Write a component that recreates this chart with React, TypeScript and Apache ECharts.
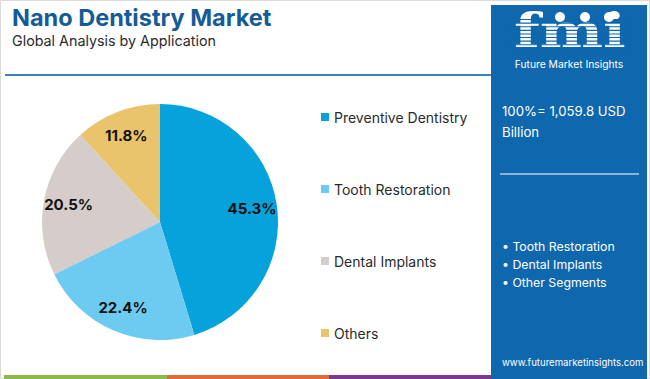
import React, { useEffect, useRef } from "react";
import * as echarts from "echarts";

const categories = ["Preventive Dentistry", "Tooth Restoration", "Dental Implants", "Others"];
const shares = [45.3, 22.4, 20.5, 11.8];
const colors = ["#05a2dc", "#6dcbf1", "#d6ccc9", "#e9c46c"];
const panelBullets = ["• Tooth Restoration", "• Dental Implants", "• Other Segments"];
const FONT = "Inter, 'Open Sans', sans-serif";

export default function App() {
  const ref = useRef<HTMLDivElement>(null);
  useEffect(() => {
    document.body.style.margin = "0";
    const chart = echarts.init(ref.current!, null, { renderer: "svg" });
    const data = categories.map((name, i) => ({ name, value: shares[i], itemStyle: { color: colors[i] } }));
    const panelColor = "#0f67ad";
    const stripes: any[] = [];
    for (let y = 19; y < 52; y += 3.6) {
      stripes.push({ type: "rect", shape: { x: 510, y, width: 120, height: 1.1 }, style: { fill: panelColor }, z: 12 });
    }
    chart.setOption({
      animation: false,
      backgroundColor: "#ffffff",
      legend: {
        orient: "vertical",
        left: 316,
        top: 105,
        itemWidth: 8,
        itemHeight: 8,
        itemGap: 58,
        icon: "rect",
        data: categories,
        textStyle: { fontSize: 14, color: "#2b2b2b", fontFamily: FONT },
        selectedMode: false,
      },
      graphic: [
        { type: "rect", shape: { x: 0.5, y: 0.5, width: 649, height: 378 }, style: { fill: "none", stroke: "#dcdcdc", lineWidth: 1 }, z: 0 },
        { type: "text", x: 12, y: 5, style: { text: "Nano Dentistry Market", fontSize: 23.5, fontWeight: "bold", fill: "#155c96", fontFamily: FONT } },
        { type: "text", x: 12, y: 33, style: { text: "Global Analysis by Application", fontSize: 14.3, fill: "#2b2b2b", fontFamily: FONT } },
        { type: "rect", shape: { x: 5, y: 74, width: 487, height: 2 }, style: { fill: "#3d7fbf" } },
        { type: "rect", shape: { x: 4, y: 375, width: 163, height: 4 }, style: { fill: "#8cb94b" } },
        { type: "rect", shape: { x: 167, y: 375, width: 162, height: 4 }, style: { fill: "#e1693a" } },
        { type: "rect", shape: { x: 329, y: 375, width: 163, height: 4 }, style: { fill: "#7c3a8e" } },
        { type: "rect", shape: { x: 491, y: 5, width: 156, height: 374 }, style: { fill: panelColor }, z: 10 },
        { type: "text", x: 514, y: 8, scaleX: 1.3, style: { text: "fmi", fontSize: 46, fontWeight: "bold", fill: "#ffffff", fontFamily: "'DejaVu Serif', serif" }, z: 11 },
        ...stripes,
        { type: "circle", shape: { cx: 560, cy: 17, r: 5 }, style: { fill: "#ffffff" }, z: 13 },
        { type: "circle", shape: { cx: 585, cy: 17, r: 5 }, style: { fill: "#ffffff" }, z: 13 },
        { type: "circle", shape: { cx: 609, cy: 17, r: 5 }, style: { fill: "#ffffff" }, z: 13 },
        { type: "text", x: 569, y: 59, style: { text: "Future Market Insights", fontSize: 10.3, fill: "#ffffff", fontFamily: FONT, align: "center" }, z: 13 },
        { type: "text", x: 502, y: 100, style: { text: "100%= 1,059.8 USD\nBillion", fontSize: 13.2, lineHeight: 21, fill: "#ffffff", fontFamily: FONT }, z: 13 },
        { type: "rect", shape: { x: 500, y: 173, width: 139, height: 2 }, style: { fill: "#8db2d6" }, z: 13 },
        ...panelBullets.map((t, i) => ({ type: "text", x: 502, y: 240 + i * 18, style: { text: t, fontSize: 12.3, fill: "#ffffff", fontFamily: FONT }, z: 13 })),
        { type: "text", x: 502, y: 357, style: { text: "www.futuremarketinsights.com", fontSize: 9.6, fill: "#ffffff", fontFamily: FONT }, z: 13 },
      ],
      series: [
        {
          type: "pie",
          center: [160, 222],
          radius: [0, 118],
          startAngle: 90,
          clockwise: true,
          silent: true,
          label: { show: false },
          labelLine: { show: false },
          data,
        },
        {
          type: "pie",
          center: [160, 222],
          radius: [62, 118],
          startAngle: 90,
          clockwise: true,
          silent: true,
          itemStyle: { color: "transparent" },
          label: {
            show: true,
            position: "inside",
            formatter: (p: any) => `${p.value.toFixed(1)}%`,
            fontSize: 15,
            fontWeight: "bold",
            color: "#111111",
            fontFamily: FONT,
          },
          labelLine: { show: false },
          data: categories.map((name, i) => ({ name, value: shares[i], itemStyle: { color: "rgba(0,0,0,0)" } })),
        },
      ],
    });
    return () => chart.dispose();
  }, []);
  return <div ref={ref} style={{ width: 650, height: 379 }} />;
}
